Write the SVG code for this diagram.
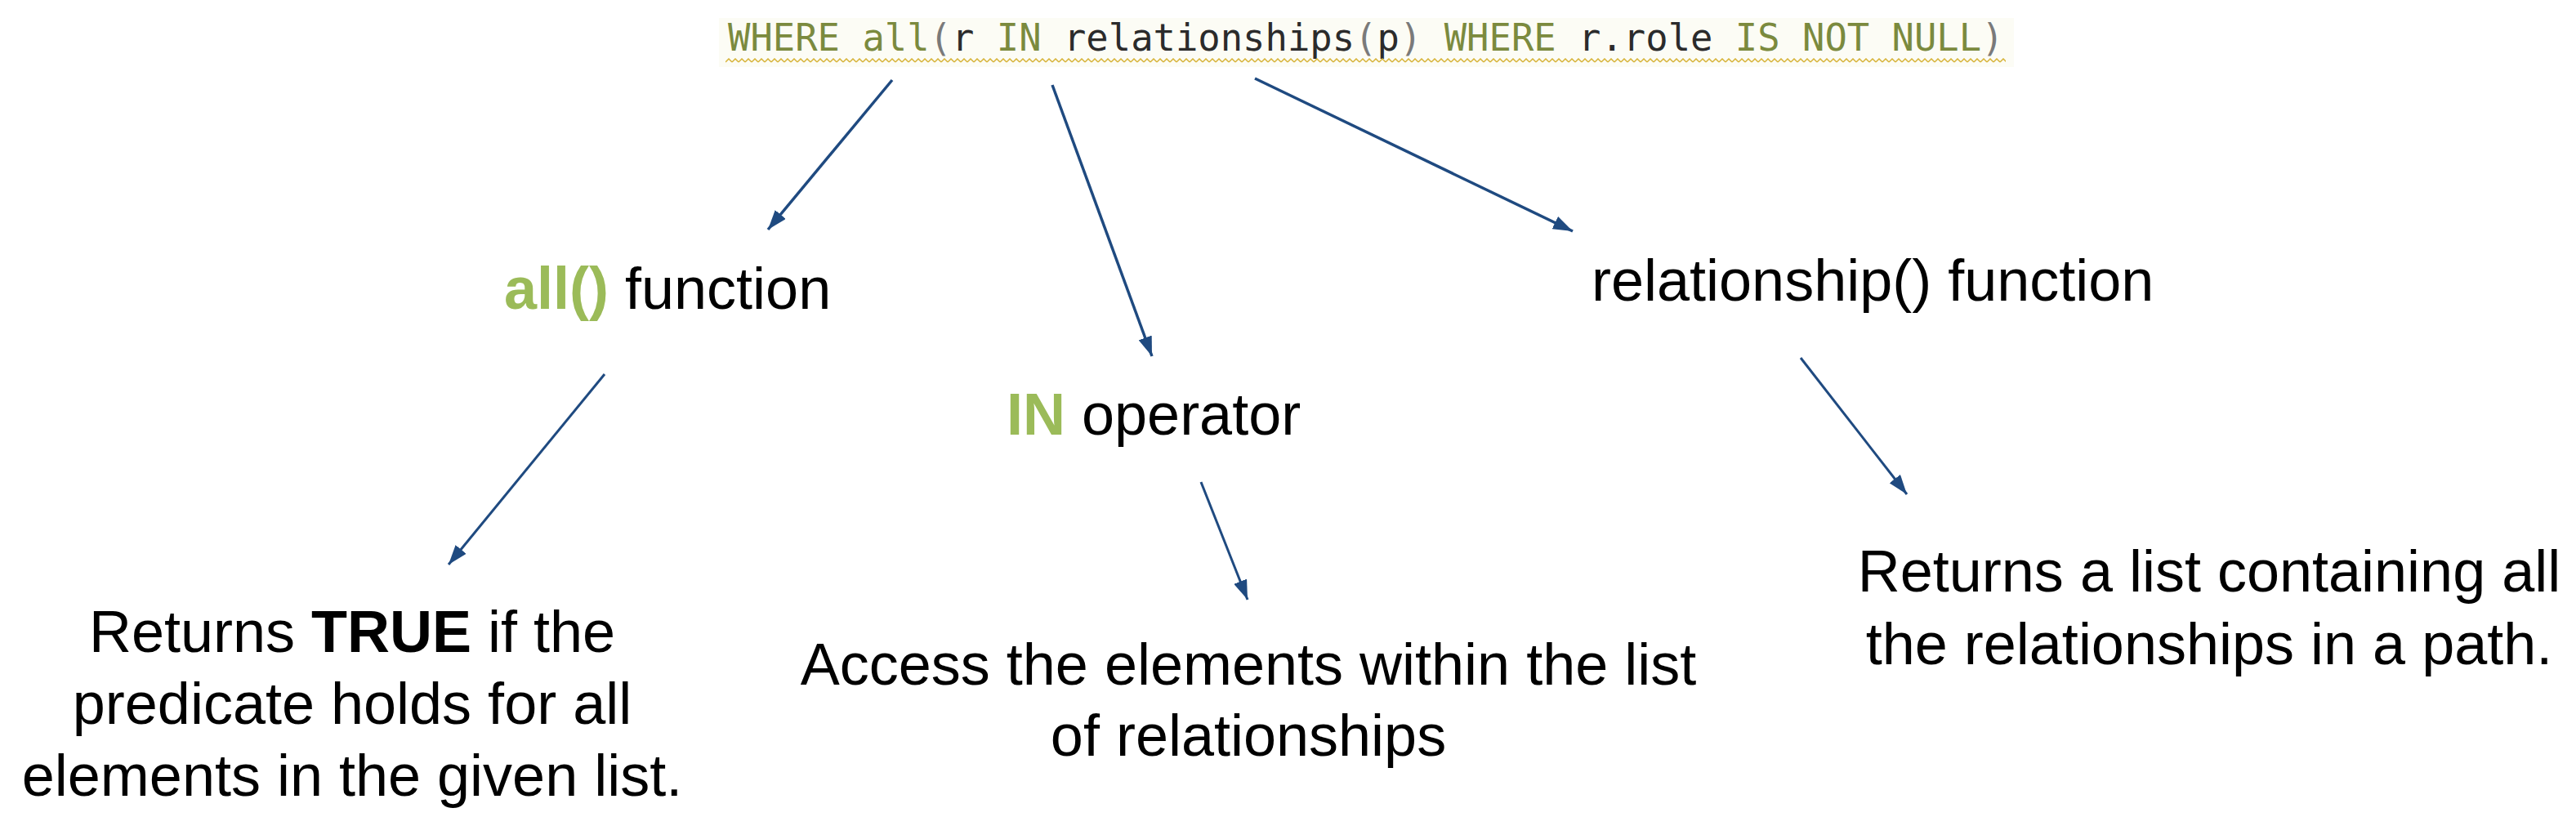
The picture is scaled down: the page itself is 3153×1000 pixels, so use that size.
<svg xmlns="http://www.w3.org/2000/svg" width="3153" height="1000" viewBox="0 0 3153 1000">
  <style>
    .lbl { font-family: "Liberation Sans", Arial, sans-serif; font-size: 72px; fill: #000000; }
    .grn { fill: #9BBB59; font-weight: bold; }
    .b { font-weight: bold; }
    .code { font-family: "DejaVu Sans Mono", "Liberation Mono", monospace; font-size: 45.5px; fill: #2b2b2b; }
    .kw { fill: #7b8a3e; }
    .par { fill: #7a7a7a; }
    .conn { stroke: #1F4A80; stroke-width: 3.5; fill: none; marker-end: url(#arrow); }
  </style>
  <defs>
    <marker id="arrow" markerUnits="userSpaceOnUse" markerWidth="24" markerHeight="17" refX="24" refY="8.5" orient="auto">
      <path d="M0,0 L24,8.5 L0,17 Z" fill="#1F4A80"/>
    </marker>
    <pattern id="squiggle" patternUnits="userSpaceOnUse" x="888" y="71" width="8" height="6">
      <path d="M0,5 L4,1 L8,5" stroke="#D6B236" stroke-width="1.5" fill="none"/>
    </pattern>
  </defs>
  <rect width="3153" height="1000" fill="#ffffff"/>

  <g id="code">
    <rect x="880" y="22" width="1585" height="60" fill="#fcfcf5"/>
    <text class="code" x="891" y="62"><tspan class="kw">WHERE</tspan> <tspan class="kw">all</tspan><tspan class="par">(</tspan>r <tspan class="kw">IN</tspan> relationships<tspan class="par">(</tspan>p<tspan class="par">)</tspan> <tspan class="kw">WHERE</tspan> r.role <tspan class="kw">IS NOT NULL</tspan><tspan class="par">)</tspan></text>
    <rect x="888" y="71" width="1567" height="6" fill="url(#squiggle)"/>
  </g>

  <g id="all-function">
    <text class="lbl" x="617" y="378"><tspan class="grn">all()</tspan> function</text>
  </g>

  <g id="in-operator">
    <text class="lbl" x="1232" y="532"><tspan class="grn">IN</tspan> operator</text>
  </g>

  <g id="relationship-function">
    <text class="lbl" x="1948" y="368">relationship() function</text>
  </g>

  <g id="all-desc">
    <text class="lbl" text-anchor="middle" x="431" y="798">Returns <tspan class="b">TRUE</tspan> if the</text>
    <text class="lbl" text-anchor="middle" x="431" y="886">predicate holds for all</text>
    <text class="lbl" text-anchor="middle" x="431" y="974">elements in the given list.</text>
  </g>

  <g id="in-desc">
    <text class="lbl" text-anchor="middle" x="1528" y="838">Access the elements within the list</text>
    <text class="lbl" text-anchor="middle" x="1528" y="925">of relationships</text>
  </g>

  <g id="relationship-desc">
    <text class="lbl" text-anchor="middle" x="2704" y="724">Returns a list containing all</text>
    <text class="lbl" text-anchor="middle" x="2704" y="813">the relationships in a path.</text>
  </g>

  <g id="connectors">
    <line class="conn" x1="1092" y1="98" x2="940" y2="281"/>
    <line class="conn" x1="1288" y1="104" x2="1410" y2="436"/>
    <line class="conn" x1="1536" y1="96" x2="1925" y2="283"/>
    <line class="conn" x1="740" y1="458" x2="549" y2="691" style="stroke-width:3"/>
    <line class="conn" x1="1470" y1="590" x2="1527" y2="734" style="stroke-width:3"/>
    <line class="conn" x1="2204" y1="438" x2="2334" y2="605" style="stroke-width:3"/>
  </g>
</svg>
